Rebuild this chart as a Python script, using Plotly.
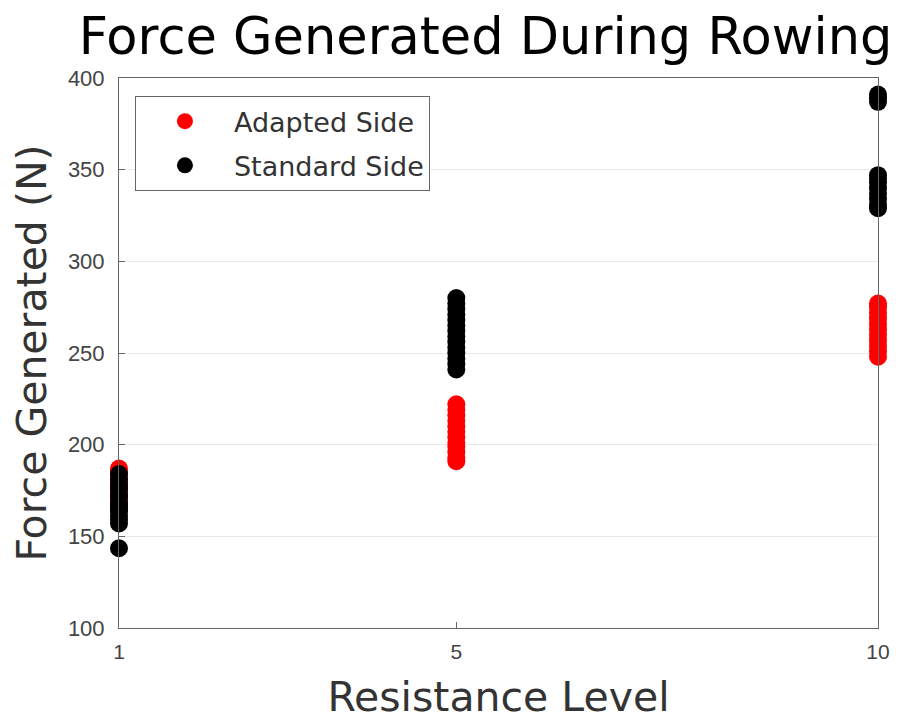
import plotly.graph_objects as go

levels_adapted_1 = [1] * 11
adapted_1 = [164, 166, 168, 170, 172, 175, 177, 180, 182, 185, 187]
levels_standard_1 = [1] * 13
standard_1 = [143.5, 157, 159, 161, 164, 166, 168, 171, 173, 176, 178, 181, 184]
levels_adapted_5 = [5] * 12
adapted_5 = [191, 193, 196, 199, 201, 204, 207, 210, 213, 216, 219, 222]
levels_standard_5 = [5] * 14
standard_5 = [241, 244, 247, 250, 253, 256, 259, 262, 265, 268, 271, 274, 277, 280]
levels_adapted_10 = [10] * 11
adapted_10 = [248, 251, 254, 257, 260, 263, 266, 269, 272, 275, 277]
levels_standard_10 = [10] * 11
standard_10 = [387, 389, 391, 329, 331, 334, 337, 340, 343, 345, 347]

x_ticks = [1, 5, 10]
y_ticks = [100, 150, 200, 250, 300, 350, 400]

fig = go.Figure()
fig.add_trace(go.Scatter(
    x=levels_adapted_1 + levels_adapted_5 + levels_adapted_10,
    y=adapted_1 + adapted_5 + adapted_10,
    mode="markers", name="Adapted Side", legendgroup="a",
    marker=dict(color="#ff0000", size=18), cliponaxis=False))
fig.add_trace(go.Scatter(
    x=levels_standard_1 + levels_standard_5 + levels_standard_10,
    y=standard_1 + standard_5 + standard_10,
    mode="markers", name="Standard Side", legendgroup="b",
    marker=dict(color="#000000", size=18), cliponaxis=False))

lib = "Liberation Sans, Arial, sans-serif"
dj = "DejaVu Sans, sans-serif"
fig.update_layout(
    width=915, height=713,
    margin=dict(l=111, r=45, t=70, b=93),
    paper_bgcolor="white", plot_bgcolor="white",
    title=dict(text="Force Generated During Rowing", x=0.522, xanchor="center",
               y=0.96, yanchor="middle", font=dict(family=dj, size=51, color="#000")),
    xaxis=dict(range=[1, 10], tickvals=x_ticks, ticktext=[str(v) for v in x_ticks],
               showgrid=False, zeroline=False, showline=True, linecolor="#666", linewidth=1,
               mirror=True, ticks="inside", ticklen=6, tickcolor="#666", ticklabelstandoff=5,
               tickfont=dict(family=lib, size=21, color="#444"), automargin=False,
               title=dict(text="Resistance Level", font=dict(family=dj, size=41, color="#333"), standoff=20)),
    yaxis=dict(range=[100, 400], tickvals=y_ticks,
               showgrid=True, gridcolor="#e8e8e8", zeroline=False, showline=True, linecolor="#666",
               linewidth=1, mirror=True, ticks="inside", ticklen=6, tickcolor="#666", ticklabelstandoff=9,
               tickfont=dict(family=lib, size=22, color="#444"), automargin=False,
               title=dict(text="Force Generated (N)", font=dict(family=dj, size=41, color="#333"), standoff=12)),
    legend=dict(x=0.021, y=0.967, xanchor="left", yanchor="top",
                bordercolor="#666", borderwidth=1, bgcolor="white",
                itemwidth=88, tracegroupgap=6,
                font=dict(family=dj, size=27, color="#333")),
)
fig.write_html("out.html")
